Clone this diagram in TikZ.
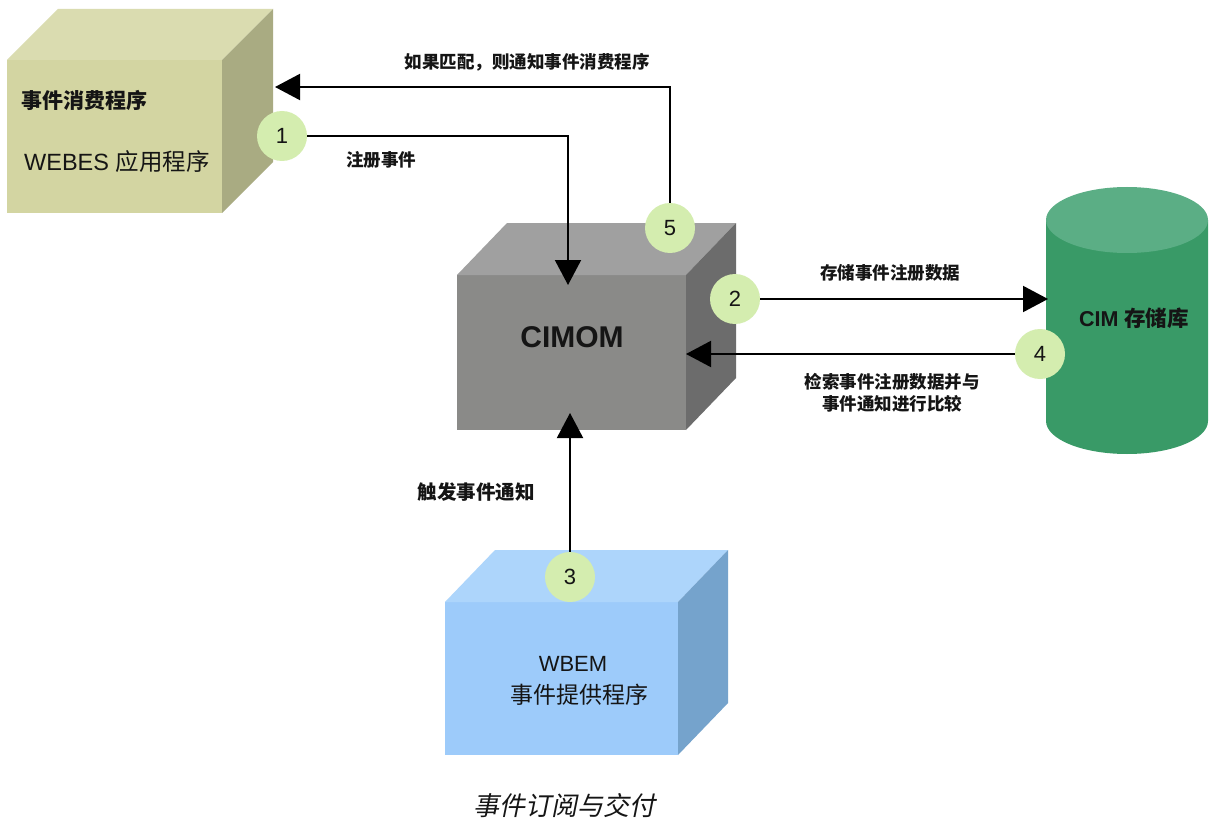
\documentclass[tikz,border=0pt]{standalone}
\usepackage{fontspec}
\setmainfont{Liberation Sans}
\newfontfamily\cjk{Noto Sans CJK SC}
\newfontfamily\cjkit[FakeSlant=0.2]{Noto Sans CJK SC}
\usetikzlibrary{arrows.meta}
\definecolor{olfront}{HTML}{D3D5A2}
\definecolor{oltop}{HTML}{DADCB0}
\definecolor{olside}{HTML}{A9AB82}
\definecolor{grfront}{HTML}{8A8A88}
\definecolor{grtop}{HTML}{A0A0A0}
\definecolor{grside}{HTML}{6C6C6C}
\definecolor{blfront}{HTML}{9DCBFA}
\definecolor{bltop}{HTML}{ADD5FB}
\definecolor{blside}{HTML}{75A3CC}
\definecolor{cybody}{HTML}{399A67}
\definecolor{cytop}{HTML}{5BAE85}
\definecolor{numgreen}{HTML}{D4EDAF}
\definecolor{txt}{HTML}{151515}
\begin{document}
\begin{tikzpicture}[x=1pt,y=-1pt,
  lbl/.style={font=\cjk\bfseries\fontsize{17.5}{22}\selectfont, inner sep=0pt, text=txt, align=center},
  num/.style={circle, fill=numgreen, minimum size=50pt, inner sep=0pt, text=txt, font=\fontsize{22}{24}\selectfont},
  arr/.style={line width=2pt, draw=black, -{Triangle[length=25pt,width=26pt]}},
  boxtxt/.style={inner sep=0pt, text=txt}]
\useasboundingbox (0,0) rectangle (1211,824);
\fill[white] (0,0) rectangle (1211,824);
% box 1 (event consumer)
\fill[olfront] (7,60) rectangle (222,213);
\fill[oltop] (7,60) -- (58,9) -- (273,9) -- (222,60) -- cycle;
\fill[olside] (222,60) -- (273,9) -- (273,162) -- (222,213) -- cycle;
% CIMOM
\fill[grfront] (457,275) rectangle (686,430);
\fill[grtop] (457,275) -- (507,223) -- (736,223) -- (686,275) -- cycle;
\fill[grside] (686,275) -- (736,223) -- (736,378) -- (686,430) -- cycle;
% box 3 (provider)
\fill[blfront] (445,602) rectangle (678,755);
\fill[bltop] (445,602) -- (495,550) -- (728,550) -- (678,602) -- cycle;
\fill[blside] (678,602) -- (728,550) -- (728,703) -- (678,755) -- cycle;
% cylinder
\fill[cybody] (1046,220) -- (1046,421) arc[start angle=180,end angle=0,x radius=81,y radius=33] -- (1208,220) -- cycle;
\fill[cytop] (1127,220) ellipse[x radius=81,y radius=33];
% texts in shapes
\node[boxtxt, anchor=west, font=\cjk\bfseries\fontsize{21}{24}\selectfont] (t1a) at (21,100) {事件消费程序};
\node[boxtxt, anchor=west, font=\fontsize{23.5}{27}\selectfont] (t1b) at (24,162) {WEBES {\cjk 应用程序}};
\node[boxtxt, font=\bfseries\fontsize{30}{33}\selectfont] (cimom) at (572,337) {CIMOM};
\node[boxtxt, font=\bfseries\fontsize{21.5}{25}\selectfont] (cim) at (1134,318) {CIM {\cjk\bfseries 存储库}};
\node[boxtxt, font=\fontsize{22}{26}\selectfont] (t3a) at (573,664) {WBEM};
\node[boxtxt, font=\cjk\fontsize{23}{26}\selectfont] (t3b) at (579,695) {事件提供程序};
\node[boxtxt, font=\cjkit\fontsize{26}{30}\selectfont] (cap) at (564,806) {事件订阅与交付};
% number circles
\node[num] (n1) at (282,136) {1};
\node[num] (n5) at (670,228) {5};
\node[num] (n2) at (735,299) {2};
\node[num] (n4) at (1040,354) {4};
\node[num] (n3) at (570,577) {3};
% connector endpoints
\coordinate (cimomTop) at (568,285);
\coordinate (box1R) at (275,87);
\coordinate (cylL) at (1048,299);
\coordinate (cimomR) at (686,354);
\coordinate (cimomB) at (570,413);
% connectors
\draw[arr] (n1.east) -| (cimomTop);
\draw[arr] (n5.north) |- (box1R);
\draw[arr] (n2.east) -- (cylL);
\draw[arr] (n4.west) -- (cimomR);
\draw[arr] (n3.north) -- (cimomB);
% labels
\node[lbl] (l5) at (527,62) {如果匹配，则通知事件消费程序};
\node[lbl] (l1) at (381,160) {注册事件};
\node[lbl] (l2) at (890,273) {存储事件注册数据};
\node[lbl] (l4) at (892,393) {检索事件注册数据并与\\事件通知进行比较};
\node[lbl, font=\cjk\bfseries\fontsize{19.5}{22}\selectfont] (l3) at (476,492) {触发事件通知};
\end{tikzpicture}
\end{document}
